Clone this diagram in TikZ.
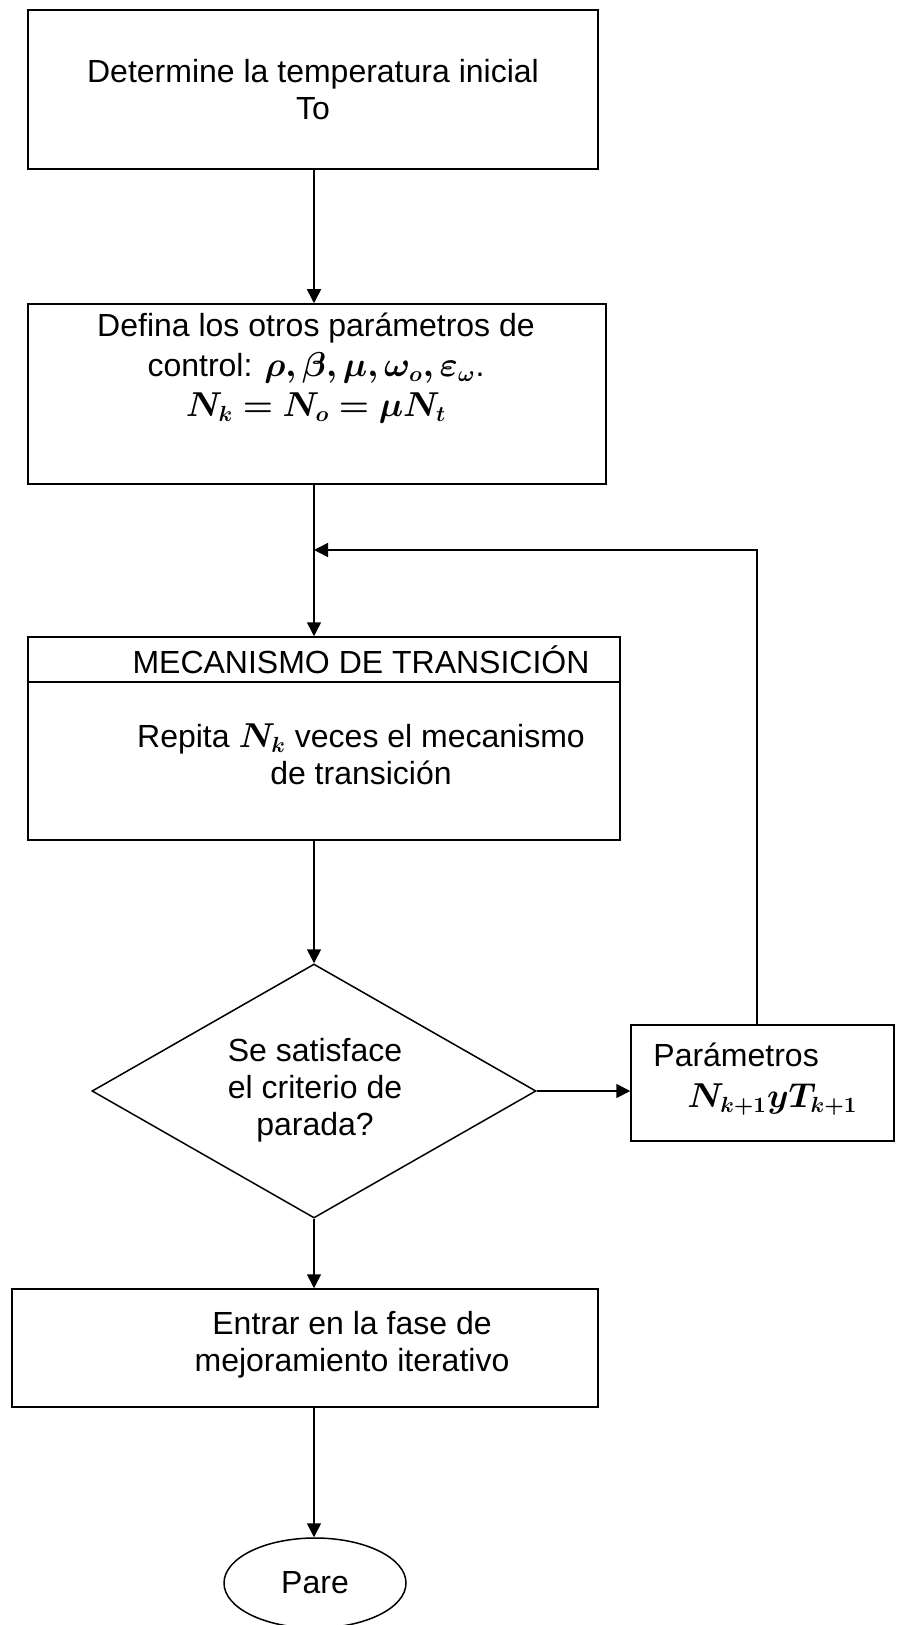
\documentclass[tikz,border=0pt]{standalone}
\usepackage{fontspec}
\setmainfont{Liberation Sans}
\usepackage{bm}
\usetikzlibrary{shapes.geometric,arrows.meta}

\begin{document}
\begin{tikzpicture}[x=0.5pt,y=-0.5pt,
    box_node/.style={draw,rectangle,line width=0.75pt,inner sep=0pt},
    text_node/.style={align=center,inner sep=0pt,font=\fontsize{16}{18.5}\selectfont},
    arrow_line/.style={line width=0.75pt,-{Triangle[length=7pt,width=7pt]}}]
    \useasboundingbox (0,0) rectangle (896,1625);
    \node[box_node,minimum width=285pt,minimum height=79.5pt] (1) at (313,89.5) {};
    \node[box_node,minimum width=289pt,minimum height=90pt] (2) at (317,394) {};
    \node[box_node,minimum width=296pt,minimum height=101.5pt] (3) at (324,738.5) {};
    \node[draw,diamond,line width=0.75pt,inner sep=0pt,minimum width=222pt,minimum height=127pt] (4) at (314,1091) {};
    \node[box_node,minimum width=131.5pt,minimum height=58pt] (5) at (762.5,1083) {};
    \node[box_node,minimum width=293pt,minimum height=59pt] (6) at (305,1348) {};
    \node[draw,ellipse,line width=0.75pt,inner sep=0pt,minimum width=91pt,minimum height=45pt,font=\fontsize{16}{18.5}\selectfont] (7) at (315,1583) {Pare};
    \coordinate (back) at (314,550);
    \coordinate (up) at (757,1025);
    \draw[line width=0.75pt] (3.west |- 0,682) -- (3.east |- 0,682);
    \node[text_node] (t1) at (313,90) {Determine la temperatura inicial\\To};
    \node[text_node,font=\fontsize{16}{20}\selectfont] (t2) at (316,368) {Defina los otros parámetros de\\control: $\bm{\rho,\beta,\mu,\omega_o,\varepsilon_\omega}$.\\$\bm{N_k=N_o=\mu N_t}$};
    \node[text_node] (t3) at (361,660) {MECANISMO DE TRANSICIÓN};
    \node[text_node] (t4) at (361,754) {Repita $\bm{N_k}$ veces el mecanismo\\de transición};
    \node[text_node] (t5) at (315,1090) {Se satisface\\el criterio de\\parada?};
    \node[text_node,anchor=west] (t6) at (653,1055) {Parámetros};
    \node[text_node,anchor=west] (t7) at (687,1100) {$\bm{N_{k+1}yT_{k+1}}$};
    \node[text_node] (t8) at (352,1344.5) {Entrar en la fase de\\mejoramiento iterativo};
    \draw[arrow_line] (4.north |- 1.south) -- (4.north |- 2.north);
    \draw[arrow_line] (4.north |- 2.south) -- (4.north |- 3.north);
    \draw[arrow_line] (4.north |- 3.south) -- (4.north);
    \draw[arrow_line] (4.east) -- (4.east -| 5.west);
    \draw[arrow_line] (up) |- (back);
    \draw[arrow_line] (4.south) -- (4.south |- 6.north);
    \draw[arrow_line] (4.south |- 6.south) -- (4.south |- 7.north);
\end{tikzpicture}
\end{document}
